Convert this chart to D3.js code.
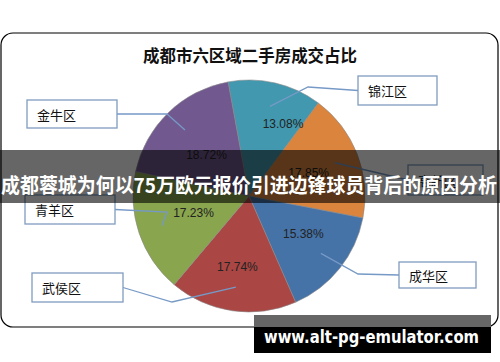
<!DOCTYPE html>
<html lang="zh">
<head>
<meta charset="UTF-8">
<script src="https://cdn.jsdelivr.net/npm/d3@7"></script>
<title>成都市六区域二手房成交占比</title>
<style>
body{margin:0;background:#fff}
svg{display:block}
</style>
</head>
<body>
<div id="chart"></div>
<script>
// data
var districts = ['锦江区', '高新区', '成华区', '武侯区', '青羊区', '金牛区'];
var shares = [13.08, 17.85, 15.38, 17.74, 17.23, 18.72];
var colors = ['#4198AF', '#DB843D', '#4572A7', '#AA4643', '#89A54E', '#71588F'];
var title = '成都市六区域二手房成交占比';
var banner = '成都蓉城为何以75万欧元报价引进边锋球员背后的原因分析';
var site = 'www.alt-pg-emulator.com';

// callout box layout (same order as districts)
var boxes = [
	{x: 358, y: 76, w: 79, h: 29, ex: 308, ey: 87},
	{x: 408, y: 165, w: 75, h: 30, ex: 357, ey: 168},
	{x: 399, y: 262, w: 77, h: 26, ex: 358, ey: 274},
	{x: 32, y: 273, w: 91, h: 29, ex: 172, ey: 302},
	{x: 25, y: 195, w: 90, h: 29, ex: 167, ey: 212},
	{x: 27, y: 100, w: 90, h: 28, ex: 167, ey: 114}
];
// percent label placement: radius, angle shift (deg) from slice middle
var pctPos = [[80, 12], [64, 0], [66, -4], [72, 1], [58, 2], [59, -2]];

var W = 500, H = 362;
var cx = 249, cy = 196, R = 116;

var svg = d3.select('#chart').append('svg')
	.attr('width', W).attr('height', H);

// frame
svg.append('rect')
	.attr('x', 1).attr('y', 33).attr('width', 497).attr('height', 294)
	.attr('rx', 12)
	.attr('fill', '#fff').attr('stroke', '#000').attr('stroke-width', 1.2);

svg.append('text')
	.attr('x', 250).attr('y', 54)
	.attr('text-anchor', 'middle').attr('dominant-baseline', 'central')
	.attr('font-family', '"Noto Sans CJK SC", sans-serif')
	.attr('font-weight', 'bold').attr('font-size', 17)
	.attr('textLength', 214).attr('lengthAdjust', 'spacingAndGlyphs')
	.attr('fill', '#111')
	.text(title);

var deg = Math.PI / 180;
var pie = d3.pie().sort(null)
	.startAngle(-10.4 * deg).endAngle(349.6 * deg)
	.value(function(d) { return d; });
var arcs = pie(shares);

var arc = d3.arc().innerRadius(0).outerRadius(R);
var leaderArc = d3.arc().innerRadius(92).outerRadius(92);

var g = svg.append('g').attr('transform', 'translate(' + cx + ',' + cy + ')');

g.selectAll('path.slice')
	.data(arcs)
	.enter().append('path')
	.attr('class', 'slice')
	.attr('d', arc)
	.attr('fill', function(d, i) { return colors[i]; })
	.attr('stroke', '#8a8a8a').attr('stroke-width', 0.6);

g.selectAll('text.pct')
	.data(arcs)
	.enter().append('text')
	.attr('class', 'pct')
	.attr('transform', function(d, i) {
		var a = (d.startAngle + d.endAngle) / 2 + pctPos[i][1] * deg;
		var r = pctPos[i][0];
		return 'translate(' + (r * Math.sin(a)) + ',' + (-r * Math.cos(a)) + ')';
	})
	.attr('text-anchor', 'middle').attr('dominant-baseline', 'central')
	.attr('font-family', '"Liberation Sans", Arial, sans-serif')
	.attr('font-size', 12).attr('fill', '#222')
	.text(function(d) { return d.data.toFixed(2) + '%'; });

// leader lines and callout boxes
arcs.forEach(function(d, i) {
	var b = boxes[i];
	var p = leaderArc.centroid(d);
	var start = [cx + p[0], cy + p[1]];
	var side = b.x > cx ? b.x : b.x + b.w;
	var line = d3.line();
	svg.append('path')
		.attr('d', line([start, [b.ex, b.ey], [side, b.y + b.h / 2]]))
		.attr('fill', 'none').attr('stroke', '#7699c6').attr('stroke-width', 1.3);
	svg.append('rect')
		.attr('x', b.x).attr('y', b.y).attr('width', b.w).attr('height', b.h)
		.attr('fill', '#fff').attr('stroke', '#7f9cbf').attr('stroke-width', 1.3);
	svg.append('text')
		.attr('x', b.x + 10).attr('y', b.y + b.h / 2)
		.attr('dominant-baseline', 'central')
		.attr('font-family', '"Noto Sans CJK SC", sans-serif')
		.attr('font-size', 13).attr('fill', '#111')
		.text(districts[i]);
});

// overlay banner
svg.append('rect')
	.attr('x', 0).attr('y', 150).attr('width', W).attr('height', 53)
	.attr('fill', 'rgba(0,0,0,0.6)');
svg.append('text')
	.attr('x', 249).attr('y', 184)
	.attr('text-anchor', 'middle').attr('dominant-baseline', 'central')
	.attr('font-family', '"Noto Sans CJK SC", sans-serif')
	.attr('font-weight', 'bold').attr('font-size', 20)
	.attr('textLength', 496).attr('lengthAdjust', 'spacingAndGlyphs')
	.attr('fill', '#fff')
	.text(banner);

// watermark
svg.append('rect')
	.attr('x', 254).attr('y', 315).attr('width', 237).attr('height', 12)
	.attr('fill', '#666');
svg.append('rect')
	.attr('x', 254).attr('y', 327).attr('width', 237).attr('height', 26)
	.attr('fill', '#000');
svg.append('text')
	.attr('x', 371.5).attr('y', 337)
	.attr('text-anchor', 'middle').attr('dominant-baseline', 'central')
	.attr('font-family', '"DejaVu Sans", Verdana, sans-serif')
	.attr('font-weight', 'bold').attr('font-size', 17)
	.attr('textLength', 215).attr('lengthAdjust', 'spacingAndGlyphs')
	.attr('fill', '#fff')
	.text(site);
</script>
</body>
</html>
